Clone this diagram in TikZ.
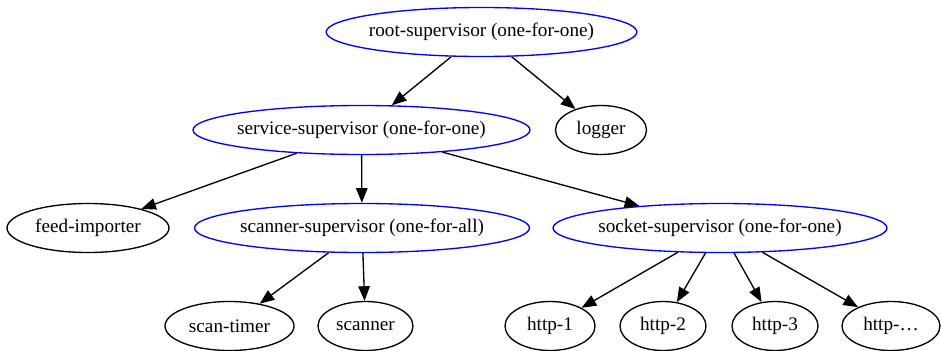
\documentclass[tikz,border=0pt]{standalone}
\usepackage{fontspec}
\setmainfont{Liberation Serif}
\usetikzlibrary{shapes.geometric,arrows.meta}
\newcommand{\ctr}[1]{\makebox[0pt]{#1}}
\begin{document}
\begin{tikzpicture}[x=0.75pt,y=-0.75pt,
 nd/.style={ellipse, draw, line width=1pt, inner sep=0pt, minimum height=36.75pt, font=\fontsize{14.4}{16}\selectfont},
 sup/.style={nd, draw=blue},
 edge/.style={-{Triangle[length=11pt,width=8.6pt]}, line width=1pt}]
\useasboundingbox (0,0) rectangle (941,350);
\node[sup, minimum width=233pt] (root) at (481.5,32) {\ctr{root-supervisor (one-for-one)}};
\node[nd, minimum width=68.25pt] (logger) at (601,130) {\ctr{logger}};
\node[sup, minimum width=252.75pt] (service) at (361.5,130) {\ctr{service-supervisor (one-for-one)}};
\node[nd, minimum width=121.5pt] (feed) at (88,228) {\ctr{feed-importer}};
\node[sup, minimum width=251.25pt] (scansup) at (362,228) {\ctr{scanner-supervisor (one-for-all)}};
\node[sup, minimum width=250.5pt] (socket) at (720,228) {\ctr{socket-supervisor (one-for-one)}};
\node[nd, minimum width=96.75pt] (timer) at (229.5,326) {\ctr{scan-timer}};
\node[nd, minimum width=71.25pt] (scanner) at (365.5,326) {\ctr{scanner}};
\node[nd, minimum width=67.5pt] (h1) at (550,326) {\ctr{http-1}};
\node[nd, minimum width=64.5pt] (h2) at (663,326) {\ctr{http-2}};
\node[nd, minimum width=64.5pt] (h3) at (775,326) {\ctr{http-3}};
\node[nd, minimum width=73.5pt] (h4) at (891,326) {\ctr{http-…}};
\draw[edge] (root) -- (service);
\draw[edge] (root) -- (logger);
\draw[edge] (service) -- (feed);
\draw[edge] (service) -- (scansup);
\draw[edge] (service) -- (socket);
\draw[edge] (scansup) -- (timer);
\draw[edge] (scansup) -- (scanner);
\draw[edge] (socket) -- (h1);
\draw[edge] (socket) -- (h2);
\draw[edge] (socket) -- (h3);
\draw[edge] (socket) -- (h4);
\end{tikzpicture}
\end{document}
